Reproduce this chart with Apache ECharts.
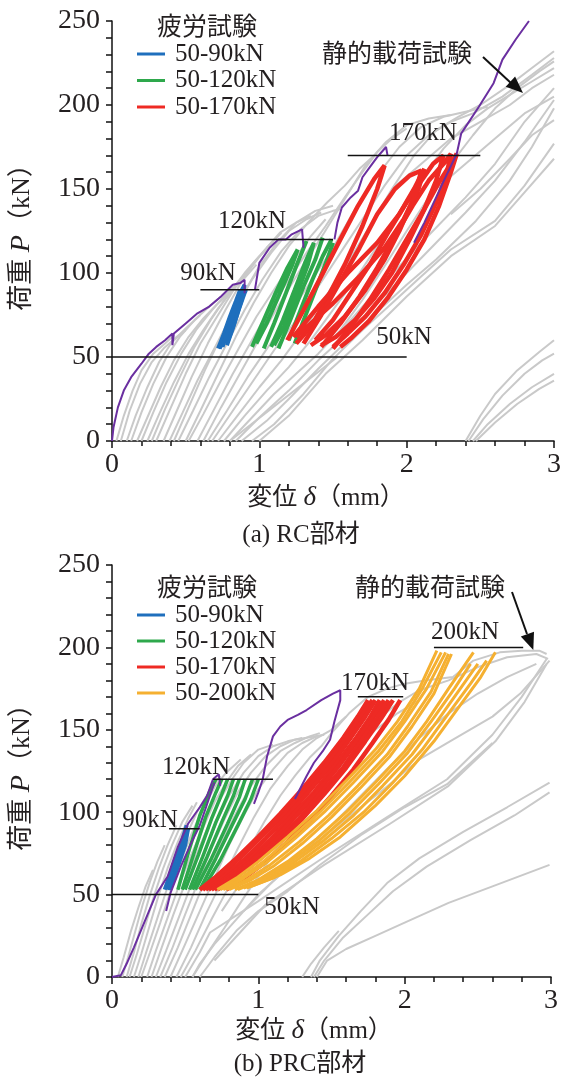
<!DOCTYPE html>
<html>
<head>
<meta charset="utf-8">
<script src="https://cdn.jsdelivr.net/npm/echarts@6/dist/echarts.min.js"></script>
<style>
html,body{margin:0;padding:0;background:#fff;}
#ech{width:564px;height:1079px;}
</style>
</head>
<body>
<div id="ech"></div>
<script>
// ---- (a) RC部材 ----
// 静的載荷試験 (grey)
const rcStatic = [
  [[0.03,0],[0.08,15],[0.14,30],[0.2,42],[0.28,52],[0.36,58],[0.42,63]],
  [[0.06,0],[0.12,18],[0.19,34],[0.27,47],[0.35,55],[0.44,62],[0.5,66]],
  [[0.1,0],[0.16,15],[0.24,32],[0.32,47],[0.4,58],[0.5,67],[0.6,75]],
  [[0.13,0],[0.2,17],[0.28,34],[0.37,50],[0.46,62],[0.56,72],[0.66,80],[0.74,86]],
  [[0.17,0],[0.24,14],[0.33,32],[0.42,48],[0.52,62],[0.62,73],[0.72,82],[0.8,88]],
  [[0.2,0],[0.28,17],[0.37,35],[0.47,52],[0.57,66],[0.68,78],[0.78,88],[0.86,94]],
  [[0.24,0],[0.32,16],[0.42,35],[0.52,52],[0.62,66],[0.72,79],[0.82,90],[0.9,97],[0.98,105]],
  [[0.27,0],[0.36,19],[0.46,38],[0.56,56],[0.67,72],[0.78,86],[0.9,100],[1.0,110],[1.1,118]],
  [[0.3,0],[0.4,20],[0.5,40],[0.6,58],[0.72,75],[0.84,92],[0.95,105],[1.05,115],[1.15,124]],
  [[0.35,0],[0.44,18],[0.54,38],[0.65,58],[0.77,78],[0.9,98],[1.02,112],[1.14,124],[1.25,130],[1.35,134]],
  [[0.39,0],[0.48,17],[0.58,36],[0.7,56],[0.82,76],[0.95,96],[1.08,112],[1.2,125],[1.32,132],[1.42,136]],
  [[0.42,0],[0.52,20],[0.63,42],[0.75,64],[0.88,86],[1.0,104],[1.12,118],[1.25,130],[1.38,137],[1.5,140]],
  [[0.45,0],[0.55,18],[0.66,38],[0.78,58],[0.9,78],[1.02,96],[1.15,113],[1.28,126],[1.4,134],[1.5,137],[1.55,138]],
  [[0.5,0],[0.6,18],[0.72,40],[0.84,62],[0.96,82],[1.08,100],[1.2,116],[1.33,130],[1.46,142],[1.58,152],[1.68,162],[1.78,170]],
  [[0.52,0],[0.62,16],[0.74,36],[0.86,55],[0.98,74],[1.1,90],[1.22,106],[1.35,122],[1.45,132]],
  [[0.58,0],[0.7,20],[0.82,40],[0.95,60],[1.08,80],[1.2,96],[1.32,112],[1.45,128],[1.58,145],[1.7,160],[1.8,172],[1.9,180],[2.0,186]],
  [[0.62,0],[0.74,20],[0.88,42],[1.02,64],[1.16,85],[1.3,105],[1.44,124],[1.58,144],[1.72,164],[1.86,178],[2.0,188],[2.15,192],[2.3,194]],
  [[0.65,0],[0.78,18],[0.92,38],[1.06,56],[1.2,75],[1.35,95],[1.5,115],[1.65,138],[1.8,158],[1.95,175],[2.1,187],[2.25,193],[2.4,196],[2.55,199]],
  [[0.68,0],[0.82,18],[0.96,36],[1.1,54],[1.25,72],[1.4,92],[1.55,112],[1.7,132],[1.85,152],[2.0,170],[2.15,182],[2.3,190],[2.45,195],[2.65,205],[2.85,218],[3.0,228]],
  [[0.72,0],[0.86,16],[1.0,32],[1.15,48],[1.3,66],[1.45,86],[1.6,106],[1.75,128],[1.9,150],[2.05,170],[2.2,185],[2.35,193],[2.5,200],[2.7,212],[2.85,222],[3.0,232]],
  [[0.76,0],[0.9,15],[1.05,30],[1.2,44],[1.35,60],[1.5,78],[1.65,96],[1.8,116],[1.95,136],[2.1,156],[2.25,174],[2.4,188],[2.55,198],[2.7,206],[2.85,214],[3.0,222]],
  [[0.8,0],[0.95,14],[1.1,28],[1.25,40],[1.4,52],[1.55,66],[1.7,84],[1.85,104],[2.0,125],[2.15,145],[2.3,165],[2.45,182],[2.6,198],[2.75,210],[2.9,220],[3.0,226]],
  [[0.8,0],[1.53,50]],
  [[0.84,0],[1.0,14],[1.2,30],[1.4,48],[1.6,64],[1.8,82],[2.0,100],[2.2,118],[2.4,136],[2.6,155],[2.8,178],[3.0,203]],
  [[0.88,0],[1.05,12],[1.2,25],[1.4,43],[1.6,60],[1.8,77],[2.0,93],[2.2,108],[2.47,131],[2.7,155],[2.85,175],[3.0,198]],
  [[0.95,0],[1.1,10],[1.3,28],[1.49,48],[1.7,66],[1.9,82],[2.1,98],[2.3,114],[2.6,131],[2.8,152],[3.0,177]],
  [[1.0,0],[1.2,15],[1.45,40],[1.7,60],[2.0,86],[2.3,110],[2.6,128],[2.8,148],[3.0,168]],
  [[1.5,60],[1.8,90],[2.1,118],[2.4,145],[2.6,165],[2.8,190],[3.0,210]],
  [[1.9,150],[2.1,165],[2.3,180],[2.5,190],[2.7,200],[2.85,210],[3.0,218]],
  [[2.2,150],[2.4,165],[2.6,180],[2.8,195],[3.0,205]],
  [[2.3,135],[2.5,150],[2.7,168],[2.85,182],[3.0,191]],
  [[2.4,0],[2.5,15],[2.6,28],[2.75,42],[2.9,53],[3.0,60]],
  [[2.42,0],[2.52,13],[2.65,27],[2.8,40],[2.92,48],[3.0,52]],
  [[2.45,0],[2.55,10],[2.7,22],[2.85,32],[3.0,40]],
  [[2.47,0],[2.6,11],[2.75,22],[2.9,31],[3.0,36]]
];
// 包絡線 (purple)
const rcEnvelope = [
  [[0,0],[0.01,8],[0.04,20],[0.08,30],[0.13,38],[0.2,46],[0.25,52],[0.3,56],[0.36,60],[0.41,64],[0.41,57],[0.42,64],[0.5,70],[0.58,76],[0.66,80],[0.74,86],[0.82,93],[0.87,94],[0.9,96],[0.9,88]],
  [[0.97,90],[1.0,106],[1.07,115],[1.13,120],[1.18,120],[1.22,123],[1.29,126],[1.3,115]],
  [[1.51,120],[1.53,130],[1.56,139],[1.62,145],[1.67,149],[1.7,157],[1.75,163],[1.8,169],[1.82,171],[1.86,175],[1.87,170]],
  [[2.05,118],[2.12,130],[2.2,145],[2.28,160],[2.34,171],[2.37,183],[2.4,187],[2.49,199],[2.59,213],[2.65,227],[2.74,239],[2.83,250]]
];
// 疲労試験 50-90kN
const rc90 = [
  [[0.72,55],[0.76,64],[0.8,74],[0.84,83],[0.87,90],[0.85,82],[0.8,70],[0.75,58],[0.73,55]],
  [[0.75,56],[0.79,66],[0.83,77],[0.87,88],[0.9,93],[0.88,84],[0.83,70],[0.78,58]],
  [[0.78,57],[0.82,67],[0.86,78],[0.9,88],[0.91,90]]
];
// 疲労試験 50-120kN
const rc120 = [
  [[0.95,56],[1.03,72],[1.11,88],[1.19,103],[1.26,114],[1.22,104],[1.13,86],[1.05,70],[0.98,58]],
  [[1.03,55],[1.1,70],[1.18,88],[1.25,104],[1.32,119]],
  [[1.08,56],[1.16,72],[1.24,90],[1.31,106],[1.37,118],[1.33,105],[1.25,86],[1.17,68],[1.1,57]],
  [[1.13,55],[1.21,72],[1.3,92],[1.38,108],[1.43,121]],
  [[1.2,60],[1.28,78],[1.36,96],[1.43,110],[1.49,120]],
  [[1.24,58],[1.31,74],[1.39,92],[1.46,108],[1.5,118]]
];
// 疲労試験 50-170kN
const rc170 = [
  [[1.19,60],[1.3,78],[1.42,98],[1.55,120],[1.67,140],[1.78,156],[1.85,164],[1.8,150],[1.7,128],[1.58,105],[1.46,85],[1.35,68],[1.25,58]],
  [[1.3,58],[1.42,75],[1.55,95],[1.68,115],[1.8,135],[1.92,150],[2.02,158],[2.1,161],[2.05,145],[1.95,125],[1.85,108],[1.72,90],[1.58,74],[1.45,63],[1.35,57]],
  [[1.38,60],[1.5,72],[1.62,88],[1.75,105],[1.88,125],[2.0,142],[2.1,155],[2.18,165],[2.25,170],[2.2,155],[2.12,138],[2.02,120],[1.9,100],[1.78,85],[1.65,72],[1.52,62],[1.42,57]],
  [[1.42,56],[1.55,70],[1.68,86],[1.8,103],[1.92,122],[2.04,140],[2.15,155],[2.25,165],[2.3,171],[2.27,158],[2.2,142],[2.1,123],[1.98,105],[1.85,88],[1.72,74],[1.6,64],[1.5,56]],
  [[1.5,55],[1.62,68],[1.75,84],[1.88,102],[2.0,120],[2.12,138],[2.22,154],[2.3,165],[2.34,171],[2.3,160],[2.22,140],[2.12,120],[2.0,102],[1.87,85],[1.74,71],[1.62,61],[1.55,56]],
  [[1.23,62],[1.4,80],[1.6,100],[1.8,118],[1.95,135],[2.05,150],[2.12,162],[2.08,150],[1.98,132],[1.85,115],[1.68,98],[1.5,82],[1.35,70],[1.25,62]]
];
// 荷重レベル [x0, x1, kN]
const rcLevels = [[0,2,50],[0.6,1.0,90],[1.0,1.5,120],[1.6,2.5,170]];

// ---- (b) PRC部材 ----
const prcStatic = [
  [[0.04,0],[0.08,12],[0.13,28],[0.18,42],[0.23,55],[0.28,65]],
  [[0.07,0],[0.11,12],[0.16,28],[0.21,44],[0.26,58],[0.31,70],[0.36,80]],
  [[0.1,0],[0.15,15],[0.2,32],[0.26,50],[0.32,66],[0.38,80],[0.44,92]],
  [[0.12,0],[0.17,14],[0.23,32],[0.29,50],[0.35,66],[0.41,80],[0.48,94],[0.55,104]],
  [[0.15,0],[0.2,14],[0.26,32],[0.32,50],[0.38,66],[0.45,82],[0.52,96],[0.58,106]],
  [[0.18,0],[0.23,14],[0.3,33],[0.37,52],[0.44,70],[0.51,86],[0.58,100],[0.66,112],[0.74,122]],
  [[0.2,0],[0.26,15],[0.33,33],[0.4,52],[0.47,70],[0.54,86],[0.62,102],[0.7,115],[0.78,124],[0.88,132]],
  [[0.24,0],[0.3,16],[0.38,36],[0.46,56],[0.54,74],[0.62,90],[0.7,106],[0.78,118],[0.86,128],[0.95,135]],
  [[0.27,0],[0.34,18],[0.42,38],[0.5,57],[0.58,75],[0.66,92],[0.74,108],[0.82,120],[0.9,130],[1.0,138],[1.1,141]],
  [[0.3,0],[0.37,16],[0.46,37],[0.55,58],[0.64,78],[0.72,95],[0.8,110],[0.9,124],[1.0,134],[1.1,140],[1.2,143],[1.3,145]],
  [[0.33,0],[0.41,17],[0.5,38],[0.59,58],[0.68,78],[0.77,96],[0.86,112],[0.95,124],[1.05,134],[1.15,140],[1.25,144],[1.38,146],[1.45,147]],
  [[0.36,0],[0.45,18],[0.55,40],[0.65,62],[0.75,82],[0.85,100],[0.95,116],[1.05,128],[1.15,137],[1.25,142],[1.35,146],[1.42,148]],
  [[0.4,0],[0.5,20],[0.6,40],[0.7,60],[0.8,80],[0.9,98],[1.0,114],[1.1,126],[1.2,136],[1.3,142],[1.4,146]],
  [[0.44,0],[0.54,18],[0.64,38],[0.75,58],[0.86,78],[0.97,97],[1.08,114],[1.2,128],[1.3,138],[1.4,145],[1.5,150],[1.6,158]],
  [[0.47,0],[0.57,16],[0.68,35],[0.8,55],[0.92,75],[1.04,94],[1.15,110],[1.25,122],[1.35,133],[1.43,140],[1.5,148],[1.62,160],[1.75,170],[1.88,175],[2.0,178],[2.15,180],[2.33,182],[2.47,192],[2.65,197],[2.8,198],[2.92,198],[2.97,196]],
  [[0.55,0],[0.65,14],[0.77,30],[0.9,48],[1.03,65],[1.16,82],[1.3,100],[1.42,115],[1.55,130],[1.68,143],[1.8,155],[1.95,166],[2.1,174],[2.3,180],[2.5,188],[2.7,194],[2.9,196],[2.98,193]],
  [[2.99,192],[2.79,172],[2.6,158],[2.33,144],[2.1,132],[1.83,112],[1.6,96],[1.4,82],[1.2,66],[1.0,50],[0.85,35],[0.7,20],[0.6,8],[0.55,0]],
  [[0.5,0],[0.6,15],[0.67,27],[1.0,46],[1.42,71],[1.88,97],[2.29,120],[2.6,147],[2.8,170],[2.97,193]],
  [[0.6,0],[0.7,12],[0.85,28],[1.0,40],[1.2,52],[1.42,68],[1.7,86],[2.0,103],[2.29,117],[2.6,142]],
  [[0.7,10],[1.05,44],[1.45,68],[1.9,93],[2.3,116],[2.62,143],[2.82,167],[2.97,190]],
  [[0.75,40],[0.9,60],[1.05,78],[1.2,95],[1.35,110],[1.5,122],[1.65,136],[1.8,150],[1.95,160],[2.1,168]],
  [[0.9,40],[1.1,58],[1.3,75],[1.5,92],[1.7,110],[1.9,128],[2.1,145],[2.3,160],[2.5,172],[2.7,182],[2.9,190]],
  [[1.3,0],[1.36,8],[1.45,18],[1.55,28]],
  [[1.36,0],[1.42,10],[1.55,25],[1.7,40],[1.88,57],[2.1,72],[2.4,88],[2.7,103],[2.99,118]],
  [[1.38,0],[1.45,10],[1.58,24],[1.75,38],[1.92,52],[2.15,67],[2.45,83],[2.75,98],[2.99,112]],
  [[1.4,0],[1.47,10],[1.6,17],[1.8,25],[2.0,33],[2.3,45],[2.6,55],[2.99,68]]
];
const prcEnvelope = [
  [[0,0],[0.06,1],[0.1,8],[0.15,18],[0.22,33],[0.3,50],[0.38,61],[0.45,79],[0.52,93],[0.6,103],[0.65,110],[0.69,120],[0.73,123],[0.74,116]],
  [[0.37,40],[0.4,51],[0.47,67],[0.55,83],[0.6,92],[0.65,105],[0.7,118]],
  [[0.97,105],[1.0,112],[1.03,120],[1.06,134],[1.1,146],[1.15,152],[1.2,156],[1.27,159],[1.33,162],[1.43,168],[1.51,172],[1.56,174],[1.56,168],[1.52,155],[1.49,144],[1.44,137],[1.38,130],[1.33,122],[1.29,115],[1.25,108]]
];
const prc90 = [
  [[0.36,53],[0.4,63],[0.44,73],[0.48,83],[0.51,92]],
  [[0.38,53],[0.42,62],[0.46,72],[0.5,83],[0.52,90],[0.5,80],[0.45,67],[0.41,57],[0.39,53]]
];
const prc120 = [
  [[0.45,53],[0.52,75],[0.6,98],[0.67,113],[0.71,120]],
  [[0.48,53],[0.56,75],[0.64,97],[0.71,112],[0.75,120]],
  [[0.5,53],[0.59,74],[0.68,96],[0.75,111],[0.79,120]],
  [[0.53,53],[0.62,73],[0.71,94],[0.79,110],[0.83,120]],
  [[0.55,53],[0.65,73],[0.75,94],[0.83,110],[0.87,120]],
  [[0.57,53],[0.68,72],[0.79,93],[0.87,109],[0.91,120]],
  [[0.6,53],[0.71,72],[0.82,92],[0.91,108],[0.96,120]],
  [[0.62,53],[0.74,71],[0.86,92],[0.95,108],[1.0,120]]
];
const prc170 = [
  [[0.6,53],[0.7,60],[0.85,72],[1.0,85],[1.15,99],[1.3,114],[1.45,130],[1.58,145],[1.68,158],[1.75,168]],
  [[0.62,53],[0.72,60],[0.87,72],[1.02,85],[1.18,99],[1.32,113],[1.48,130],[1.6,145],[1.7,158],[1.78,168]],
  [[0.64,53],[0.75,60],[0.9,71],[1.05,84],[1.2,98],[1.35,113],[1.5,129],[1.63,145],[1.73,158],[1.8,168]],
  [[0.66,53],[0.78,60],[0.92,70],[1.08,83],[1.22,97],[1.38,112],[1.52,128],[1.66,144],[1.76,157],[1.83,168]],
  [[0.68,53],[0.8,60],[0.95,70],[1.1,83],[1.25,97],[1.4,112],[1.55,128],[1.68,144],[1.78,157],[1.86,168]],
  [[0.7,53],[0.82,60],[0.98,71],[1.12,83],[1.28,96],[1.42,111],[1.58,127],[1.7,143],[1.81,157],[1.89,168]],
  [[0.72,53],[0.84,60],[1.0,71],[1.15,83],[1.3,96],[1.45,111],[1.6,127],[1.73,143],[1.84,157],[1.92,168]],
  [[0.78,53],[0.9,60],[1.05,70],[1.2,82],[1.35,95],[1.5,110],[1.65,126],[1.78,142],[1.89,156],[1.97,168]]
];
const prc200 = [
  [[0.72,53],[0.85,60],[1.0,70],[1.2,85],[1.4,101],[1.6,119],[1.8,138],[1.95,155],[2.1,175],[2.22,198]],
  [[0.74,53],[0.88,60],[1.02,69],[1.22,84],[1.42,100],[1.62,118],[1.82,137],[1.98,155],[2.12,175],[2.25,197]],
  [[0.76,53],[0.9,60],[1.05,69],[1.25,84],[1.45,100],[1.65,118],[1.85,137],[2.0,155],[2.15,175],[2.28,197]],
  [[0.78,53],[0.92,59],[1.08,68],[1.28,82],[1.48,98],[1.68,116],[1.88,135],[2.02,152],[2.18,173],[2.3,196]],
  [[0.8,53],[0.95,59],[1.1,67],[1.3,81],[1.5,97],[1.7,115],[1.9,134],[2.05,152],[2.2,172],[2.32,196]],
  [[0.84,53],[1.0,59],[1.2,70],[1.4,84],[1.6,100],[1.8,118],[2.0,137],[2.15,155],[2.3,175],[2.47,197]],
  [[0.86,53],[1.02,59],[1.22,70],[1.42,83],[1.62,99],[1.82,117],[2.02,136],[2.18,155],[2.34,175],[2.45,190]],
  [[0.9,54],[1.05,59],[1.25,70],[1.45,83],[1.65,98],[1.85,116],[2.05,135],[2.22,155],[2.38,175],[2.5,190]],
  [[0.92,54],[1.1,60],[1.3,71],[1.5,84],[1.72,100],[1.92,118],[2.12,138],[2.3,160],[2.45,178],[2.56,192]],
  [[0.95,55],[1.15,62],[1.35,72],[1.56,85],[1.8,104],[2.0,122],[2.2,143],[2.38,165],[2.52,182],[2.62,197]]
];
const prcLevels = [[0,1.0,50],[0.39,0.6,90],[0.69,1.1,120],[1.68,1.99,170],[2.2,2.81,200]];

const legendA = ['50-90kN','50-120kN','50-170kN'];
const legendB = ['50-90kN','50-120kN','50-170kN','50-200kN'];

const colors = {
  '50-90kN':'#1f6fbd', '50-120kN':'#2ea84c', '50-170kN':'#ee2a24', '50-200kN':'#f5b031',
  grey:'#c9c9c9', env:'#6a2fa0'
};

let ownChart = echarts.init(document.getElementById('ech'));

const serif = '"Liberation Serif","Noto Sans CJK JP"';
const txt = '#231f20';

function lines(list, g, name, color, width, z){
  return list.map(function(pts){
    return {
      type:'line', name:name, xAxisIndex:g, yAxisIndex:g,
      data:pts, symbol:'none', showSymbol:false, silent:true, z:z,
      lineStyle:{color:color, width:width}, itemStyle:{color:color}
    };
  });
}
function levels(list, g){
  return list.map(function(l){
    return {
      type:'line', xAxisIndex:g, yAxisIndex:g, data:[[l[0],l[2]],[l[1],l[2]]],
      symbol:'none', silent:true, z:10, lineStyle:{color:'#111', width:1.5}
    };
  });
}

function xAx(g){
  return {
    type:'value', gridIndex:g, min:0, max:3, interval:1,
    axisLine:{lineStyle:{color:'#111', width:1.5}},
    axisTick:{length:7, lineStyle:{color:'#111', width:1.5}},
    minorTick:{show:true, splitNumber:5, length:5, lineStyle:{color:'#111', width:1.5}},
    splitLine:{show:false},
    axisLabel:{fontFamily:'Liberation Serif', fontSize:28, color:txt, margin:10}
  };
}
function yAx(g){
  return {
    type:'value', gridIndex:g, min:0, max:250, interval:50,
    name:'{a|荷重 }{i|P}{a|（kN）}', nameLocation:'middle', nameGap:76,
    nameTextStyle:{rich:{
      a:{fontFamily:serif, fontSize:26, color:txt},
      i:{fontFamily:'Liberation Serif', fontStyle:'italic', fontSize:28, color:txt}
    }},
    axisLine:{show:true, lineStyle:{color:'#111', width:1.5}},
    axisTick:{show:true, length:6, lineStyle:{color:'#111', width:1.5}},
    minorTick:{show:true, splitNumber:5, length:6, lineStyle:{color:'#111', width:1.5}},
    splitLine:{show:false},
    axisLabel:{fontFamily:'Liberation Serif', fontSize:28, color:txt, margin:12}
  };
}

function label(text, x, y, size, align){
  return {type:'text', x:x, y:y, z:20, style:{
    text:text, fill:txt, fontFamily:serif, fontSize:size || 25,
    align:align || 'center', verticalAlign:'middle'
  }};
}
function axisName(x, y){
  return {type:'text', x:x, y:y, z:20, style:{
    text:'{a|変位 }{i|δ}{a|（mm）}', align:'center', verticalAlign:'middle',
    rich:{
      a:{fontFamily:serif, fontSize:25, fill:txt},
      i:{fontFamily:'Liberation Serif', fontStyle:'italic', fontSize:27, fill:txt}
    }
  }};
}
// 凡例 (legend box drawn as graphic)
function legend(names, x, y, step){
  var out = [label('疲労試験', x + 70, y - 26)];
  names.forEach(function(n, i){
    var yy = y + i * step;
    out.push({type:'line', z:20, shape:{x1:x, y1:yy, x2:x + 28, y2:yy}, style:{stroke:colors[n], lineWidth:3}});
    out.push(label(n, x + 38, yy, 25, 'left'));
  });
  return out;
}

var series = [].concat(
  lines(rcStatic, 0, 'static', colors.grey, 2, 1),
  lines(rc90, 0, '50-90kN', colors['50-90kN'], 4, 3),
  lines(rc120, 0, '50-120kN', colors['50-120kN'], 4, 3),
  lines(rc170, 0, '50-170kN', colors['50-170kN'], 4.5, 3),
  lines(rcEnvelope, 0, 'env', colors.env, 2, 5),
  levels(rcLevels, 0),
  lines(prcStatic, 1, 'static', colors.grey, 2, 1),
  lines(prc90, 1, '50-90kN', colors['50-90kN'], 4, 3),
  lines(prc120, 1, '50-120kN', colors['50-120kN'], 3.5, 3),
  lines(prc170, 1, '50-170kN', colors['50-170kN'], 4.5, 3),
  lines(prc200, 1, '50-200kN', colors['50-200kN'], 3, 4),
  lines(prcEnvelope, 1, 'env', colors.env, 2, 5),
  levels(prcLevels, 1)
);

var option = {
  animation:false,
  backgroundColor:'#fff',
  grid:[
    {left:111, top:21, width:448, height:420},
    {left:111, top:565, width:440, height:412}
  ],
  xAxis:[xAx(0), xAx(1)],
  yAxis:[yAx(0), yAx(1)],
  graphic:[].concat(
    legend(legendA, 137, 54, 26.5),
    [
      label('静的載荷試験', 397, 55),
      {type:'line', z:20, shape:{x1:483, y1:57, x2:512, y2:84}, style:{stroke:'#111', lineWidth:2}},
      {type:'polygon', z:20, shape:{points:[[523,93],[505.7,86.8],[515.1,76.4]]}, style:{fill:'#111'}},
      label('90kN', 208, 273),
      label('120kN', 252, 221),
      label('170kN', 423, 133),
      label('50kN', 404, 337),
      axisName(326, 498),
      label('(a) RC部材', 301, 535)
    ],
    legend(legendB, 137, 615, 26),
    [
      label('静的載荷試験', 430, 589),
      {type:'line', z:20, shape:{x1:512, y1:592, x2:527, y2:634}, style:{stroke:'#111', lineWidth:2}},
      {type:'polygon', z:20, shape:{points:[[533.3,650],[520.8,636.5],[534.0,631.7]]}, style:{fill:'#111'}},
      label('90kN', 150, 820),
      label('120kN', 196, 767),
      label('170kN', 375, 683),
      label('200kN', 465, 632),
      label('50kN', 292, 907),
      axisName(314, 1031),
      label('(b) PRC部材', 300, 1064)
    ]
  ),
  series:series
};

ownChart.setOption(option);
</script>
</body>
</html>
